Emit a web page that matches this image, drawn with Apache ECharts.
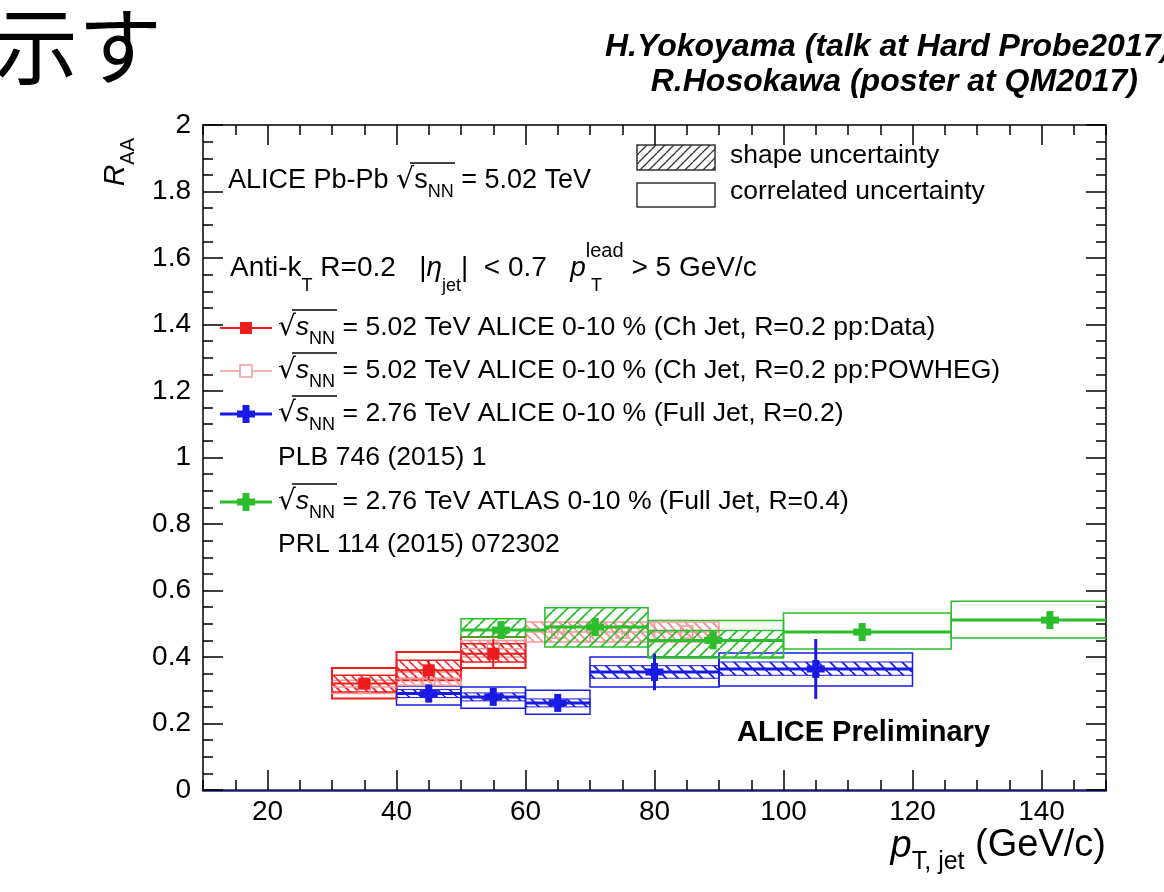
<!DOCTYPE html>
<html>
<head>
<meta charset="utf-8">
<script src="https://cdn.jsdelivr.net/npm/echarts@6/dist/echarts.min.js"></script>
<style>
  html, body { margin: 0; padding: 0; background: #fff; }
  #chart { width: 1164px; height: 892px; }
</style>
</head>
<body>
<div id="chart"></div>
<script>
// axis ranges and ticks
const X_MIN = 10, X_MAX = 150;
const Y_MIN = 0, Y_MAX = 2;
const xMajorTicks = [20, 40, 60, 80, 100, 120, 140];

// ALICE 5.02 TeV, ch jets R=0.2, pp reference from data
const chDataPt = [35, 45, 55];
const chDataBins = [[30, 40], [40, 50], [50, 60]];
const chDataRaa = [0.32, 0.36, 0.41];
const chDataStat = [0.01, 0.03, 0.045];
const chDataShape = [[0.295, 0.345], [0.335, 0.39], [0.385, 0.44]];
const chDataCorr = [[0.275, 0.367], [0.33, 0.415], [0.367, 0.46]];

// ALICE 5.02 TeV, ch jets R=0.2, POWHEG pp reference
const chPowPt = [35, 45, 55, 65, 75, 85];
const chPowBins = [[30, 40], [40, 50], [50, 60], [60, 70], [70, 80], [80, 90]];
const chPowRaa = [0.31, 0.335, 0.425, 0.475, 0.475, 0.475];
const chPowStat = [0.01, 0.01, 0.01, 0.01, 0.01, 0.01];
const chPowShape = [[0.29, 0.33], [0.315, 0.355], [0.4, 0.45], [0.445, 0.505], [0.445, 0.505], [0.445, 0.505]];

// ALICE 2.76 TeV, full jets R=0.2 (PLB 746 (2015) 1)
const fullPt = [45, 55, 65, 80, 105];
const fullBins = [[40, 50], [50, 60], [60, 70], [70, 90], [90, 120]];
const fullRaa = [0.29, 0.28, 0.262, 0.355, 0.364];
const fullStat = [0.02, 0.02, 0.02, 0.055, 0.09];
const fullShape = [[0.278, 0.302], [0.268, 0.292], [0.25, 0.274], [0.336, 0.374], [0.345, 0.385]];
const fullCorr = [[0.256, 0.313], [0.246, 0.31], [0.228, 0.3], [0.31, 0.4], [0.313, 0.412]];

// ATLAS 2.76 TeV, full jets R=0.4 (PRL 114 (2015) 072302)
const atlasPt = [56.2, 70.8, 89.1, 112.2, 141.3];
const atlasBins = [[50, 63], [63, 79], [79, 100], [100, 126], [126, 158]];
const atlasRaa = [0.481, 0.49, 0.45, 0.475, 0.511];
const atlasStat = [0.015, 0.015, 0.015, 0.015, 0.015];
const atlasShapeBins = [[50, 60], [63, 79], [79, 100]];
const atlasShape = [[0.46, 0.515], [0.43, 0.548], [0.40, 0.48]];
const atlasCorrBins = [[79, 100], [100, 126], [126, 158]];
const atlasCorr = [[0.397, 0.51], [0.424, 0.532], [0.457, 0.568]];

const FONT = '"Liberation Sans", Arial, Helvetica, sans-serif';
const COLORS = {
  red: '#ee1c1c',
  pink: '#f29a9a',
  blue: '#1a1ae6',
  green: '#2bbd2b',
  navy: '#1c1c70',
};

function hatch(color, dir, step, width) {
  const c = document.createElement('canvas');
  c.width = c.height = step;
  const g = c.getContext('2d');
  g.strokeStyle = color;
  g.lineWidth = width;
  g.beginPath();
  for (const k of [-step, 0, step]) {
    if (dir === '/') { g.moveTo(k, step); g.lineTo(k + step, 0); }
    else { g.moveTo(k, 0); g.lineTo(k + step, step); }
  }
  g.stroke();
  return { image: c, repeat: 'repeat' };
}

function boxSeries(name, bins, ranges, color, fill, lineWidth, z) {
  return {
    type: 'custom',
    name,
    clip: true,
    silent: true,
    z,
    data: bins.map((b, i) => [b[0], b[1], ranges[i][0], ranges[i][1]]),
    encode: { x: [0, 1], y: [2, 3] },
    renderItem(params, api) {
      const p0 = api.coord([api.value(0), api.value(3)]);
      const p1 = api.coord([api.value(1), api.value(2)]);
      return {
        type: 'rect',
        shape: { x: p0[0], y: p0[1], width: p1[0] - p0[0], height: p1[1] - p0[1] },
        style: { fill: fill || 'none', stroke: color, lineWidth },
      };
    },
  };
}

function pointSeries(name, pts, bins, vals, errs, color, marker, lineWidth, z) {
  return {
    type: 'custom',
    name,
    clip: true,
    silent: true,
    z,
    data: pts.map((x, i) => [x, vals[i], bins[i][0], bins[i][1], errs[i]]),
    encode: { x: [0, 2, 3], y: 1 },
    renderItem(params, api) {
      const x = api.value(0), y = api.value(1), e = api.value(4);
      const c = api.coord([x, y]);
      const l = api.coord([api.value(2), y]);
      const r = api.coord([api.value(3), y]);
      const t = api.coord([x, y + e]);
      const b = api.coord([x, y - e]);
      const line = { stroke: color, lineWidth };
      const children = [
        { type: 'line', shape: { x1: l[0], y1: l[1], x2: r[0], y2: r[1] }, style: line },
        { type: 'line', shape: { x1: t[0], y1: t[1], x2: b[0], y2: b[1] }, style: line },
      ];
      if (marker === 'square') {
        children.push({ type: 'rect', shape: { x: c[0] - 6, y: c[1] - 6, width: 12, height: 12 }, style: { fill: color } });
      } else if (marker === 'open') {
        children.push({ type: 'rect', shape: { x: c[0] - 6, y: c[1] - 6, width: 12, height: 12 }, style: { fill: 'none', stroke: color, lineWidth: 1.5 } });
      } else {
        children.push({ type: 'rect', shape: { x: c[0] - 9, y: c[1] - 3.5, width: 18, height: 7 }, style: { fill: color } });
        children.push({ type: 'rect', shape: { x: c[0] - 3.5, y: c[1] - 9, width: 7, height: 18 }, style: { fill: color } });
      }
      return { type: 'group', children };
    },
  };
}

function rich(size) {
  const s = Math.round(size * 0.66);
  return {
    n: { fontSize: size, fontFamily: FONT, lineHeight: size * 1.2 },
    i: { fontSize: size, fontFamily: FONT, fontStyle: 'italic', lineHeight: size * 1.2 },
    sub: { fontSize: s, fontFamily: FONT, lineHeight: size * 1.5, verticalAlign: 'bottom' },
    sup: { fontSize: Math.round(size * 0.72), fontFamily: FONT, lineHeight: size * 1.9, verticalAlign: 'top' },
    sq: { fontSize: size * 1.05, fontFamily: '"DejaVu Sans", sans-serif', lineHeight: size * 1.2 },
  };
}

function text(x, y, str, size, extra) {
  return Object.assign({
    type: 'text',
    x, y,
    silent: true,
    style: {
      text: str,
      rich: rich(size),
      fill: '#000',
      font: size + 'px ' + FONT,
      textAlign: 'left', align: 'left',
      textVerticalAlign: 'middle', verticalAlign: 'middle',
    },
  }, extra || {});
}

function withStyle(el, style) {
  Object.assign(el.style, style);
  return el;
}

// overline of the square-root sign
function bar(x1, x2, y) {
  return { type: 'line', silent: true, shape: { x1, y1: y, x2, y2: y }, style: { stroke: '#000', lineWidth: 1.3 } };
}

const chart = echarts.init(document.getElementById('chart'), null, { renderer: 'canvas' });

const tickStyle = { color: '#000', width: 1.5 };
const gridRect = { left: 203, right: 58, top: 125, bottom: 102 };

function xAxisCfg(gridIndex, position, major) {
  return {
    type: 'value',
    gridIndex,
    position,
    min: X_MIN,
    max: X_MAX,
    interval: 5,
    axisLine: major
      ? { show: true, onZero: false, lineStyle: position === 'bottom' ? { color: COLORS.navy, width: 2.5 } : { color: '#000', width: 1.5 } }
      : { show: false },
    axisTick: major
      ? { show: true, inside: true, length: 20, customValues: xMajorTicks, lineStyle: tickStyle }
      : { show: true, inside: true, length: 10, lineStyle: tickStyle },
    axisLabel: major && position === 'bottom'
      ? { show: true, customValues: xMajorTicks, color: '#000', fontFamily: FONT, fontSize: 28, margin: 8 }
      : { show: false },
    splitLine: { show: false },
  };
}

function yAxisCfg(gridIndex, position, show) {
  return {
    type: 'value',
    gridIndex,
    position,
    show,
    min: Y_MIN,
    max: Y_MAX,
    interval: 0.2,
    axisLine: { show: true, onZero: false, lineStyle: { color: '#000', width: 1.5 } },
    axisTick: { show: true, inside: true, length: 20, lineStyle: tickStyle },
    minorTick: { show: true, splitNumber: 4, length: 10, lineStyle: tickStyle },
    axisLabel: position === 'left'
      ? {
          show: true, color: '#000', fontFamily: FONT, fontSize: 28, margin: 12,
          formatter: (v) => (Math.abs(v - Math.round(v)) < 1e-9 ? String(Math.round(v)) : v.toFixed(1)),
        }
      : { show: false },
    splitLine: { show: false },
    minorSplitLine: { show: false },
  };
}

const series = [
  // correlated (open) boxes
  boxSeries('ALICE 2.76 corr', fullBins, fullCorr, COLORS.blue, null, 1.5, 2),
  boxSeries('ATLAS corr', atlasCorrBins, atlasCorr, COLORS.green, null, 1.5, 2),
  boxSeries('ALICE 5.02 data corr', chDataBins, chDataCorr, COLORS.red, null, 2, 2),
  // shape (hatched) boxes
  boxSeries('ALICE 5.02 POWHEG shape', chPowBins, chPowShape, COLORS.pink, hatch(COLORS.pink, '\\', 9, 2), 1.5, 3),
  boxSeries('ALICE 5.02 data shape', chDataBins, chDataShape, COLORS.red, hatch(COLORS.red, '\\', 9, 1.5), 1.5, 3),
  boxSeries('ALICE 2.76 shape', fullBins, fullShape, COLORS.blue, hatch(COLORS.blue, '\\', 12, 1.8), 1, 3),
  boxSeries('ATLAS shape', atlasShapeBins, atlasShape, COLORS.green, hatch(COLORS.green, '/', 12, 1.8), 1.5, 4),
  // points
  pointSeries('ALICE 5.02 POWHEG', chPowPt, chPowBins, chPowRaa, chPowStat, COLORS.pink, 'open', 1.5, 3),
  pointSeries('ALICE 5.02 data', chDataPt, chDataBins, chDataRaa, chDataStat, COLORS.red, 'square', 2, 6),
  pointSeries('ALICE 2.76', fullPt, fullBins, fullRaa, fullStat, COLORS.blue, 'cross', 3, 6),
  pointSeries('ATLAS 2.76', atlasPt, atlasBins, atlasRaa, atlasStat, COLORS.green, 'cross', 3, 7),
];

const SQ = '{sq|√}{i|s}{sub|NN}';
const LEG = 26.6;
const legendRows = [328, 371, 414, 502];
const graphic = [
  // slide fragments and credits
  withStyle(text(-6, 46, '示す', 84), { font: '84px "Noto Sans CJK JP", sans-serif', rich: null }),
  withStyle(text(605, 47, 'H.Yokoyama (talk at Hard Probe2017)', 32), {
    font: 'italic bold 32px ' + FONT, rich: null,
  }),
  withStyle(text(1138, 82, 'R.Hosokawa (poster at QM2017)', 32), {
    font: 'italic bold 32px ' + FONT, rich: null, textAlign: 'right', align: 'right',
  }),
  // header
  text(228, 181, '{n|ALICE Pb-Pb }{sq|√}{n|s}{sub|NN}{n| = 5.02 TeV}', 27),
  bar(410, 455, 163),
  text(230, 268, '{n|Anti-k}{sub|T}{n| R=0.2   |}{i|η}{sub|jet}{n||  < 0.7   }{i|p}{sup|lead}{n| > 5 GeV/c}', 28),
  text(591, 286, '{n|T}', 18),
  // uncertainty legend
  { type: 'rect', shape: { x: 637, y: 145, width: 78, height: 25 }, style: { fill: hatch('#333', '/', 9, 1.3), stroke: '#333', lineWidth: 1.5 }, silent: true },
  { type: 'rect', shape: { x: 637, y: 183, width: 78, height: 24 }, style: { fill: 'none', stroke: '#333', lineWidth: 1.5 }, silent: true },
  text(730, 156, '{n|shape uncertainty}', 26.5),
  text(730, 192, '{n|correlated uncertainty}', 26.5),
  // series legend
  { type: 'line', shape: { x1: 220, y1: 328, x2: 272, y2: 328 }, style: { stroke: COLORS.red, lineWidth: 2 }, silent: true },
  { type: 'rect', shape: { x: 240, y: 322, width: 12, height: 12 }, style: { fill: COLORS.red }, silent: true },
  text(278, 328, SQ + '{n| = 5.02 TeV ALICE 0-10 % (Ch Jet, R=0.2 pp:Data)}', LEG),
  { type: 'line', shape: { x1: 220, y1: 371, x2: 272, y2: 371 }, style: { stroke: COLORS.pink, lineWidth: 1.5 }, silent: true },
  { type: 'rect', shape: { x: 240, y: 365, width: 12, height: 12 }, style: { fill: '#fff', stroke: COLORS.pink, lineWidth: 1.5 }, silent: true },
  text(278, 371, SQ + '{n| = 5.02 TeV ALICE 0-10 % (Ch Jet, R=0.2 pp:POWHEG)}', LEG),
  { type: 'line', shape: { x1: 220, y1: 414, x2: 272, y2: 414 }, style: { stroke: COLORS.blue, lineWidth: 3 }, silent: true },
  { type: 'rect', shape: { x: 237, y: 410.5, width: 18, height: 7 }, style: { fill: COLORS.blue }, silent: true },
  { type: 'rect', shape: { x: 242.5, y: 405, width: 7, height: 18 }, style: { fill: COLORS.blue }, silent: true },
  text(278, 414, SQ + '{n| = 2.76 TeV ALICE 0-10 % (Full Jet, R=0.2)}', LEG),
  text(278, 458, '{n|PLB 746 (2015) 1}', LEG),
  { type: 'line', shape: { x1: 220, y1: 502, x2: 272, y2: 502 }, style: { stroke: COLORS.green, lineWidth: 3 }, silent: true },
  { type: 'rect', shape: { x: 237, y: 498.5, width: 18, height: 7 }, style: { fill: COLORS.green }, silent: true },
  { type: 'rect', shape: { x: 242.5, y: 493, width: 7, height: 18 }, style: { fill: COLORS.green }, silent: true },
  text(278, 502, SQ + '{n| = 2.76 TeV ATLAS 0-10 % (Full Jet, R=0.4)}', LEG),
  text(278, 545, '{n|PRL 114 (2015) 072302}', LEG),
  ...legendRows.map((y) => bar(292, 337, y - 18)),
  // preliminary tag
  withStyle(text(737, 733, 'ALICE Preliminary', 29), { font: 'bold 29px ' + FONT, rich: null }),
  // axis titles
  withStyle(text(116, 138, '{i|R}{sub|AA}', 30, { rotation: Math.PI / 2 }), { textAlign: 'right', align: 'right' }),
  withStyle(text(1106, 846, '{i|p}{sub|T, jet}{n| (GeV/c)}', 38), { textAlign: 'right', align: 'right' }),
];

chart.setOption({
  animation: false,
  backgroundColor: '#fff',
  grid: [
    Object.assign({ show: false }, gridRect),
    Object.assign({ show: false }, gridRect),
  ],
  xAxis: [
    xAxisCfg(0, 'bottom', true),
    xAxisCfg(0, 'top', true),
    xAxisCfg(1, 'bottom', false),
    xAxisCfg(1, 'top', false),
  ],
  yAxis: [
    yAxisCfg(0, 'left', true),
    yAxisCfg(0, 'right', true),
    yAxisCfg(1, 'left', false),
  ],
  series: series.map((s) => Object.assign(s, { xAxisIndex: 0, yAxisIndex: 0 })),
  graphic,
});
</script>
</body>
</html>
